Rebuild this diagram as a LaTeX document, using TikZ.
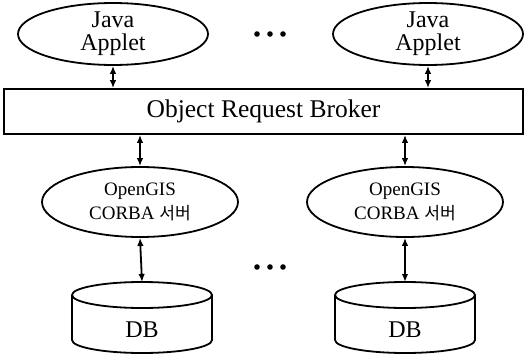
\documentclass[tikz,border=0pt]{standalone}
\usepackage{fontspec}
\setmainfont{Liberation Serif}
\newfontfamily\korfont[Scale=0.9]{Noto Sans CJK KR}
\usetikzlibrary{shapes.geometric, arrows.meta, positioning}

\tikzset{
  applet/.style={draw, ellipse, line width=1.8pt, minimum width=190pt, minimum height=58pt,
    inner sep=0pt, align=center, font=\fontsize{24}{23}\selectfont},
  server/.style={draw, ellipse, line width=1.8pt, minimum width=196pt, minimum height=70pt,
    inner sep=0pt, align=center, font=\fontsize{19}{24}\selectfont},
  dbline/.style={line width=1.8pt},
  dbtext/.style={inner sep=0pt, font=\fontsize{24}{24}\selectfont},
  broker/.style={draw, rectangle, line width=1.8pt, minimum width=519pt, minimum height=45pt,
    inner sep=0pt, font=\fontsize{25.5}{24}\selectfont},
  biarrow/.style={{Latex[length=8pt,width=6.5pt]}-{Latex[length=8pt,width=6.5pt]}, line width=1.8pt}
}

\begin{document}
\begin{tikzpicture}[x=1pt,y=-1pt]
\useasboundingbox (0,0) rectangle (526,358);

% broker bar
\node[broker] (orb) at (263.5,111.5) {Object Request Broker};

% clients
\node[applet] (ja1) at (113,34) {Java\\Applet};
\node[applet] (ja2) at (428,34) {Java\\Applet};

% servers
\node[server] (srv1) at (140,202) {OpenGIS\\CORBA {\korfont 서버}};
\node[server] (srv2) at (405,202) {OpenGIS\\CORBA {\korfont 서버}};

% databases (cylinders)
\foreach \c/\n in {142/1, 405/2} {
    \draw[dbline] (\c,295) ellipse (70 and 13);
    \draw[dbline] (\c-70,295) -- (\c-70,340) arc (180:0:70 and 13) -- (\c+70,295);
    \coordinate (dbtop\n) at (\c,282);
    \node[dbtext] (db\n) at (\c,330) {DB};
}

% ellipsis dots
\foreach \x in {257,270,283} {
    \fill (\x,34) circle (2.8);
    \fill (\x,267) circle (2.8);
}

% links
\draw[biarrow] (ja1.south) -- (ja1.south |- orb.north);
\draw[biarrow] (ja2.south) -- (ja2.south |- orb.north);
\draw[biarrow] (srv1.north |- orb.south) -- (srv1.north);
\draw[biarrow] (srv2.north |- orb.south) -- (srv2.north);
\draw[biarrow] (srv1.south) -- (dbtop1);
\draw[biarrow] (srv2.south) -- (dbtop2);
\end{tikzpicture}
\end{document}
